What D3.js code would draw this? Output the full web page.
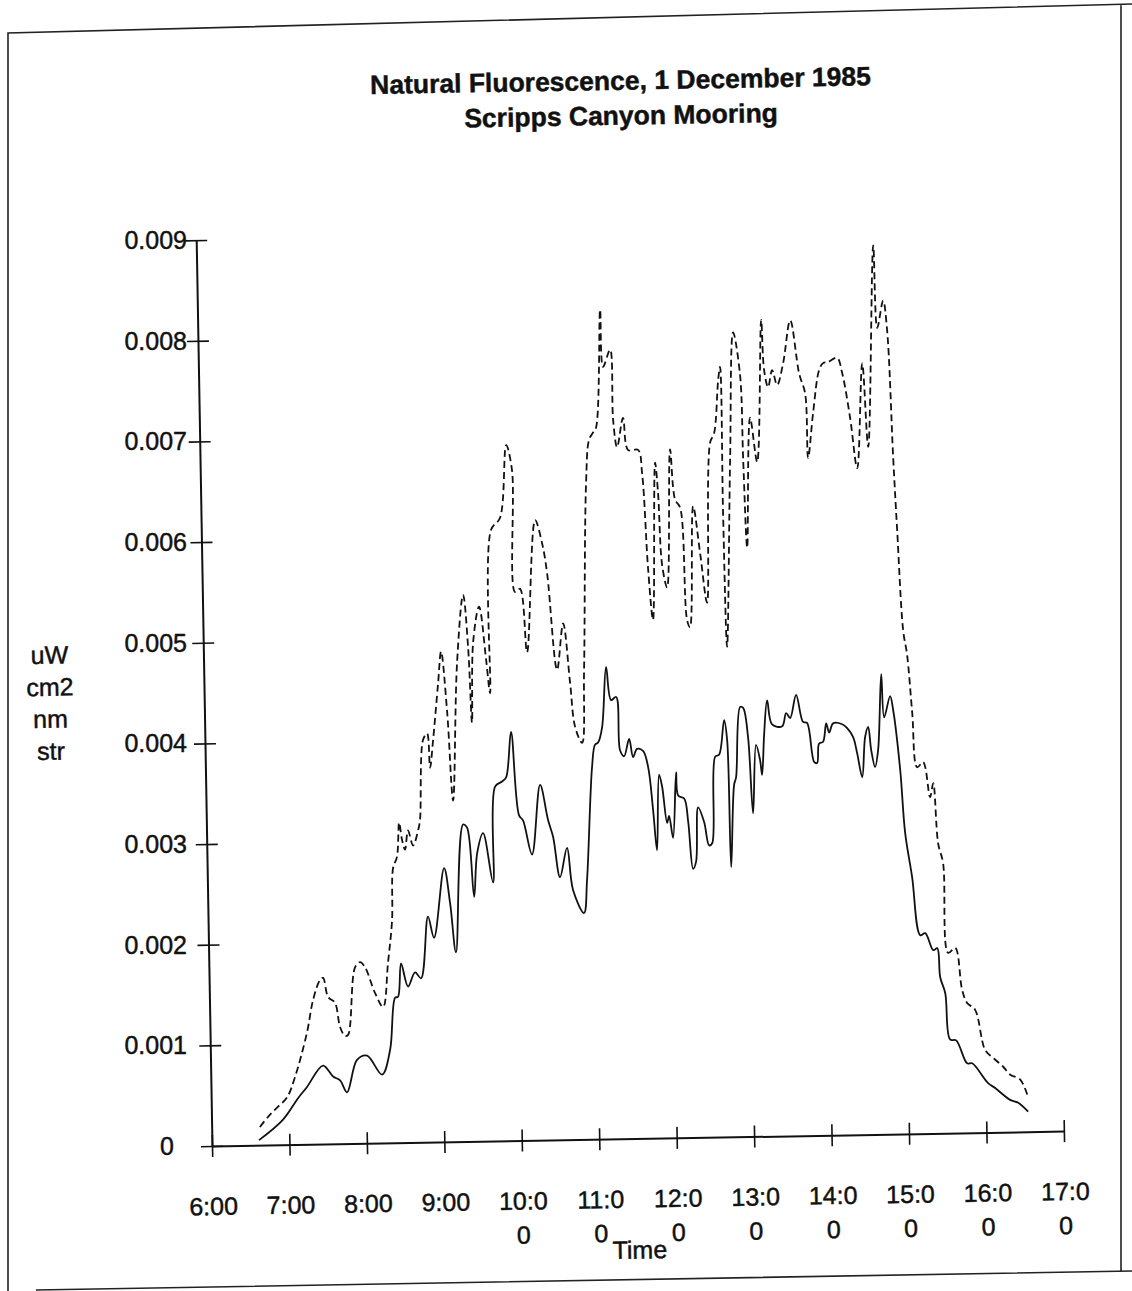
<!DOCTYPE html>
<html><head><meta charset="utf-8">
<script src="https://cdn.jsdelivr.net/npm/d3@7"></script>
<style>html,body{margin:0;padding:0;background:#fff}</style>
</head><body>
<svg id="chart" width="1132" height="1291"></svg>
<script>
// ---- data (time in minutes after midnight, values in uW/cm2/nm/str) ----
const titleLines = ["Natural Fluorescence, 1 December 1985", "Scripps Canyon Mooring"];
const yLabelLines = ["uW", "cm2", "nm", "str"];
const xTitle = "Time";
const timeTicks = [360, 420, 480, 540, 600, 660, 720, 780, 840, 900, 960, 1020];
const timeTickLabels = [["6:00"], ["7:00"], ["8:00"], ["9:00"], ["10:0", "0"], ["11:0", "0"], ["12:0", "0"], ["13:0", "0"], ["14:0", "0"], ["15:0", "0"], ["16:0", "0"], ["17:0", "0"]];
const valueTicks = [0, 0.001, 0.002, 0.003, 0.004, 0.005, 0.006, 0.007, 0.008, 0.009];
const valueTickLabels = ["0", "0.001", "0.002", "0.003", "0.004", "0.005", "0.006", "0.007", "0.008", "0.009"];

const solidTime = [396.5, 415.4, 427.3, 434.4, 447.1, 454.7, 460.1, 465.3, 473.5, 481.3, 492.7, 499.2, 503.8, 506.1, 508.9, 514.0, 519.6, 524.2, 530.4, 534.8, 543.5, 547.7, 551.6, 558.8, 561.8, 566.4, 569.3, 574.2, 581.3, 584.1, 589.6, 592.8, 597.2, 602.3, 605.3, 611.8, 619.0, 624.7, 628.4, 633.2, 639.0, 643.1, 651.3, 654.1, 659.5, 662.1, 664.5, 667.8, 671.7, 675.1, 679.1, 681.4, 684.5, 688.6, 691.4, 694.6, 699.2, 702.9, 706.2, 708.7, 711.3, 713.5, 716.9, 718.5, 721.3, 724.5, 725.8, 730.4, 733.2, 736.4, 738.8, 741.1, 745.6, 749.1, 751.5, 755.0, 758.1, 762.4, 764.5, 765.9, 769.3, 770.9, 775.0, 777.3, 780.7, 783.6, 786.8, 789.7, 791.1, 793.2, 796.0, 799.5, 807.3, 810.5, 813.6, 818.5, 823.5, 826.6, 831.6, 833.9, 835.6, 838.8, 841.4, 843.6, 846.8, 853.8, 857.6, 862.1, 865.0, 868.6, 871.4, 873.9, 875.9, 878.7, 881.3, 884.7, 886.4, 891.3, 893.5, 898.1, 901.1, 905.9, 911.4, 915.3, 921.3, 924.4, 926.3, 930.0, 933.1, 937.8, 946.0, 949.9, 962.0, 967.4, 978.8, 985.0, 992.6];
const solidValue = [0.00005, 0.00025, 0.00046, 0.00057, 0.00078, 0.00067, 0.00063, 0.00051, 0.00083, 0.00087, 0.00068, 0.00092, 0.00144, 0.00145, 0.00178, 0.00155, 0.00169, 0.00163, 0.00224, 0.00203, 0.00272, 0.00237, 0.00188, 0.00315, 0.00312, 0.00243, 0.00286, 0.00306, 0.00257, 0.00352, 0.00357, 0.00361, 0.00406, 0.00323, 0.00318, 0.00284, 0.00353, 0.00318, 0.00301, 0.00261, 0.00290, 0.00248, 0.00225, 0.00258, 0.00370, 0.00392, 0.00394, 0.00409, 0.00469, 0.00436, 0.00439, 0.00386, 0.00380, 0.00397, 0.00379, 0.00387, 0.00385, 0.00369, 0.00326, 0.00286, 0.00361, 0.00349, 0.00313, 0.00320, 0.00298, 0.00363, 0.00340, 0.00337, 0.00314, 0.00267, 0.00274, 0.00328, 0.00313, 0.00290, 0.00292, 0.00378, 0.00380, 0.00414, 0.00394, 0.00268, 0.00350, 0.00357, 0.00427, 0.00426, 0.00397, 0.00321, 0.00389, 0.00374, 0.00359, 0.00399, 0.00433, 0.00409, 0.00407, 0.00420, 0.00415, 0.00438, 0.00411, 0.00410, 0.00371, 0.00370, 0.00389, 0.00391, 0.00409, 0.00400, 0.00409, 0.00408, 0.00404, 0.00395, 0.00379, 0.00355, 0.00395, 0.00405, 0.00382, 0.00365, 0.00382, 0.00457, 0.00414, 0.00435, 0.00421, 0.00362, 0.00299, 0.00255, 0.00197, 0.00199, 0.00182, 0.00184, 0.00155, 0.00139, 0.00093, 0.00092, 0.00069, 0.00069, 0.00049, 0.00044, 0.00032, 0.00029, 0.00020];

const dashedTime = [397.4, 403.8, 410.9, 418.8, 425.2, 435.1, 440.2, 445.9, 448.3, 451.9, 457.2, 460.8, 464.5, 466.9, 473.2, 477.2, 480.9, 488.4, 494.4, 498.8, 502.5, 504.0, 507.2, 509.3, 511.3, 513.5, 516.1, 519.8, 523.9, 525.5, 529.0, 532.2, 534.0, 536.7, 541.4, 544.1, 548.0, 551.4, 556.3, 561.9, 565.1, 567.1, 569.0, 574.1, 578.9, 581.5, 584.4, 591.6, 597.3, 601.5, 602.2, 606.1, 610.7, 618.7, 623.8, 627.3, 633.7, 639.0, 643.6, 646.9, 652.1, 654.6, 658.7, 661.6, 664.8, 667.2, 671.9, 673.4, 679.1, 680.5, 683.2, 688.2, 691.7, 699.4, 702.2, 705.6, 708.7, 712.4, 714.3, 716.5, 720.1, 724.2, 727.4, 731.2, 735.1, 737.3, 741.3, 746.1, 750.8, 755.3, 758.5, 762.4, 764.0, 764.4, 765.7, 770.6, 774.6, 779.4, 780.7, 782.6, 786.6, 791.5, 796.5, 798.1, 801.0, 804.3, 808.0, 813.0, 819.0, 825.2, 829.6, 831.0, 835.5, 840.7, 843.9, 847.8, 854.8, 858.5, 864.1, 868.9, 874.2, 877.7, 884.3, 886.3, 891.2, 893.9, 896.9, 899.0, 902.3, 905.0, 908.2, 911.3, 916.0, 920.9, 923.5, 926.5, 930.1, 932.8, 938.3, 943.1, 946.8, 952.9, 960.1, 966.2, 973.9, 979.2, 986.9, 992.1];
const dashedValue = [0.00018, 0.00028, 0.00037, 0.00047, 0.00067, 0.00111, 0.00143, 0.00163, 0.00165, 0.00146, 0.00140, 0.00116, 0.00107, 0.00108, 0.00175, 0.00180, 0.00175, 0.00149, 0.00135, 0.00179, 0.00221, 0.00273, 0.00284, 0.00318, 0.00301, 0.00291, 0.00310, 0.00295, 0.00310, 0.00320, 0.00400, 0.00406, 0.00372, 0.00399, 0.00456, 0.00487, 0.00427, 0.00339, 0.00475, 0.00543, 0.00491, 0.00416, 0.00495, 0.00531, 0.00478, 0.00445, 0.00607, 0.00619, 0.00691, 0.00666, 0.00545, 0.00548, 0.00485, 0.00616, 0.00593, 0.00563, 0.00467, 0.00513, 0.00454, 0.00410, 0.00394, 0.00466, 0.00652, 0.00695, 0.00702, 0.00707, 0.00824, 0.00767, 0.00784, 0.00714, 0.00687, 0.00716, 0.00684, 0.00684, 0.00661, 0.00565, 0.00515, 0.00671, 0.00641, 0.00569, 0.00547, 0.00684, 0.00634, 0.00626, 0.00514, 0.00507, 0.00627, 0.00580, 0.00531, 0.00690, 0.00699, 0.00752, 0.00765, 0.00618, 0.00487, 0.00674, 0.00799, 0.00757, 0.00672, 0.00585, 0.00714, 0.00670, 0.00811, 0.00761, 0.00744, 0.00761, 0.00746, 0.00768, 0.00810, 0.00757, 0.00737, 0.00673, 0.00718, 0.00760, 0.00767, 0.00768, 0.00772, 0.00757, 0.00712, 0.00662, 0.00766, 0.00683, 0.00883, 0.00801, 0.00828, 0.00799, 0.00672, 0.00600, 0.00500, 0.00476, 0.00418, 0.00364, 0.00369, 0.00334, 0.00348, 0.00288, 0.00268, 0.00179, 0.00184, 0.00142, 0.00129, 0.00122, 0.00082, 0.00074, 0.00065, 0.00057, 0.00052, 0.00037];

// ---- drawing ----
const FONT = "'Liberation Sans', Arial, Helvetica, sans-serif";
const INK = "#111";
const svg = d3.select("#chart");
svg.append("rect").attr("width", 1132).attr("height", 1291).attr("fill", "#fff");

// scanned page frame
svg.append("path")
  .attr("d", "M8,1291 L8,33 L1132,4 M1121,4 L1121,1271 M36,1290 L1132,1271")
  .attr("fill", "none").attr("stroke", "#222").attr("stroke-width", 1.6);

const x = d3.scaleLinear().domain([360, 1020]).range([212, 1064]);
const y = d3.scaleLinear().domain([0, 0.009]).range([1146, 240]);

const g = svg.append("g").attr("transform", "rotate(-1,212,1146)");

function txt(sel) {
  return sel.attr("font-family", FONT).attr("fill", INK).attr("stroke", INK).attr("stroke-width", 0.45);
}

// title
titleLines.forEach((t, i) => {
  txt(g.append("text")).attr("x", 639).attr("y", 97 + i * 35)
    .attr("text-anchor", "middle").attr("font-weight", "bold").attr("font-size", 26.5).text(t);
});

// x axis
const xAxis = d3.axisBottom(x).tickValues(timeTicks).tickSize(0).tickSizeOuter(0).tickFormat(() => "");
const gx = g.append("g").attr("transform", "translate(0,1146)").call(xAxis);
gx.select(".domain").attr("stroke", INK).attr("stroke-width", 2);
gx.selectAll(".tick text").remove();
gx.selectAll(".tick").append("line").attr("y1", -11).attr("y2", 11).attr("stroke", INK).attr("stroke-width", 1.6);
gx.selectAll(".tick").each(function (d, i) {
  const t = txt(d3.select(this).append("text")).attr("text-anchor", "middle").attr("font-size", 25);
  timeTickLabels[i].forEach((s, j) => t.append("tspan").attr("x", 0).attr("y", 69 + j * 34).text(s));
});
txt(g.append("text")).attr("x", 638).attr("y", 1266).attr("text-anchor", "middle")
  .attr("font-size", 25).text(xTitle);

// y axis
const yAxis = d3.axisLeft(y).tickValues(valueTicks).tickSize(0).tickSizeOuter(0).tickFormat(() => "");
const gy = g.append("g").attr("transform", "translate(212,0)").call(yAxis);
gy.select(".domain").attr("stroke", INK).attr("stroke-width", 2);
gy.selectAll(".tick text").remove();
gy.selectAll(".tick").append("line").attr("x1", -11).attr("x2", 11).attr("stroke", INK).attr("stroke-width", 1.6);

// y tick labels (upright in the scan, right-aligned in a column)
const yLab = svg.append("g");
valueTicks.forEach((v, i) => {
  txt(yLab.append("text")).attr("x", v === 0 ? 174 : 187).attr("y", y(v)).attr("dy", "0.36em")
    .attr("text-anchor", "end").attr("font-size", 25).text(valueTickLabels[i]);
});

yLabelLines.forEach((t, i) => {
  txt(g.append("text")).attr("x", 58).attr("y", 661 + i * 32).attr("text-anchor", "middle")
    .attr("font-size", 25).text(t);
});

// series
const line = d3.line().x(d => x(d[0])).y(d => y(d[1])).curve(d3.curveCatmullRom.alpha(0.5));
const dashed = dashedTime.map((t, i) => [t, dashedValue[i]]);
const solid = solidTime.map((t, i) => [t, solidValue[i]]);
g.append("path").datum(dashed).attr("d", line).attr("fill", "none")
  .attr("stroke", INK).attr("stroke-width", 1.8).attr("stroke-dasharray", "7,4");
g.append("path").datum(solid).attr("d", line).attr("fill", "none")
  .attr("stroke", INK).attr("stroke-width", 1.8);
</script>
</body></html>
